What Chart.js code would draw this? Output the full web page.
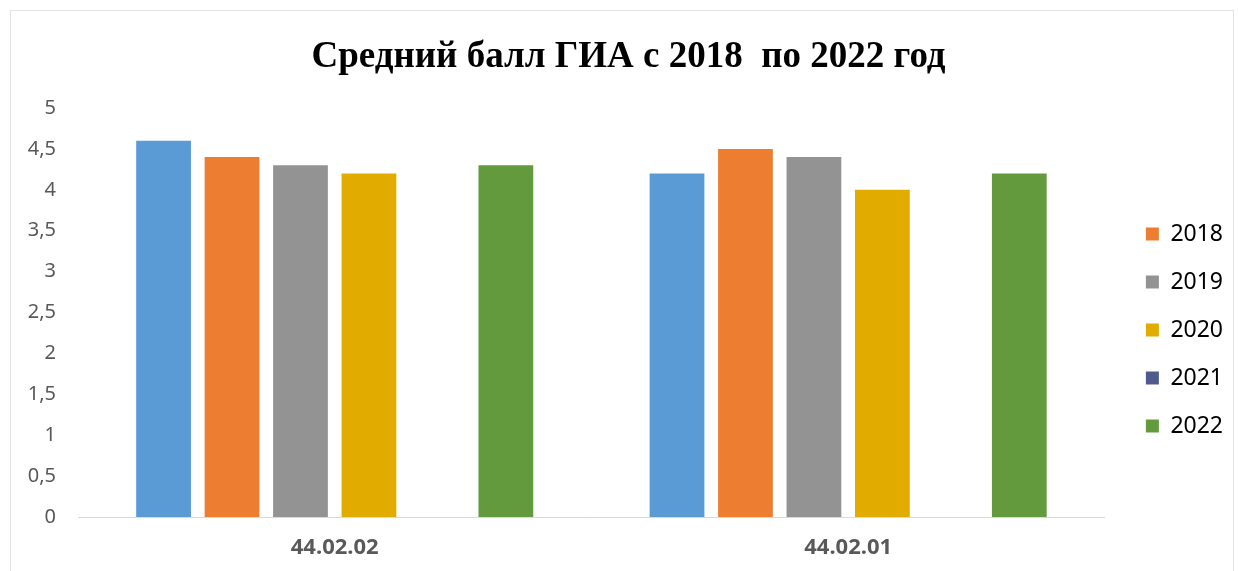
<!DOCTYPE html>
<html>
<head>
<meta charset="utf-8">
<script src="https://cdn.jsdelivr.net/npm/chart.js@4/dist/chart.umd.min.js"></script>
<style>
html,body{margin:0;padding:0;background:#fff;overflow:hidden;}
#wrap{position:relative;width:1238px;height:571px;}
#frame{position:absolute;left:10px;top:10px;width:1222px;height:580px;border:1px solid #e3e3e3;pointer-events:none;}
</style>
</head>
<body>
<div id="wrap">
<canvas id="c" width="1238" height="571"></canvas>
<div id="frame"></div>
</div>
<script>
const categories = ['44.02.02', '44.02.01'];
const seriesNames = ['Ряд1', '2018', '2019', '2020', '2021', '2022'];
const values0 = [4.6, 4.2];
const values2018 = [4.4, 4.5];
const values2019 = [4.3, 4.4];
const values2020 = [4.2, 4.0];
const values2021 = [null, null];
const values2022 = [4.3, 4.2];
const yTicks = [0, 0.5, 1, 1.5, 2, 2.5, 3, 3.5, 4, 4.5, 5];
const colors = ['#5B9BD5', '#ED7D31', '#939393', '#E1AB00', '#4F5B8D', '#649A3E'];

const allValues = [values0, values2018, values2019, values2020, values2021, values2022];
const datasets = allValues.map((v, i) => ({
  label: seriesNames[i],
  data: v,
  backgroundColor: colors[i],
  borderWidth: 0,
  categoryPercentage: 0.8,
  barPercentage: 0.8
}));

new Chart(document.getElementById('c'), {
  type: 'bar',
  data: { labels: categories, datasets },
  options: {
    responsive: false,
    animation: false,
    layout: { padding: { left: 24, right: 5, top: 0, bottom: 0 } },
    plugins: {
      title: {
        display: true,
        text: 'Средний балл ГИА с 2018  по 2022 год',
        font: { family: 'Liberation Serif', size: 37, weight: 'bold' },
        color: '#000',
        padding: { top: 35, bottom: 28.6 }
      },
      legend: {
        position: 'right',
        title: { display: true, text: ' ', font: { size: 10 }, padding: { top: 0, bottom: 77 } },
        labels: {
          filter: (item) => item.datasetIndex !== 0,
          boxWidth: 13,
          boxHeight: 13,
          padding: 25,
          color: '#000',
          font: { family: 'Noto Sans', size: 23 }
        }
      },
      tooltip: { enabled: false }
    },
    scales: {
      x: {
        grid: { display: false, drawTicks: false },
        border: { display: true, color: '#d9d9d9', width: 1 },
        afterFit: (s) => { s.height = 54; },
        ticks: {
          padding: 18,
          color: '#595959',
          font: { family: 'Noto Sans', size: 22, weight: 'bold' }
        }
      },
      y: {
        min: 0,
        max: 5,
        afterBuildTicks: (axis) => { axis.ticks = yTicks.map(v => ({ value: v })); },
        afterFit: (s) => { s.width = 54; },
        grid: { display: false, drawTicks: false },
        border: { display: false },
        ticks: {
          padding: 22,
          color: '#595959',
          font: { family: 'Noto Sans', size: 20 },
          callback: (v) => String(v).replace('.', ',')
        }
      },
      yRight: {
        position: 'right',
        display: true,
        afterFit: (s) => { s.width = 16; },
        grid: { display: false, drawTicks: false },
        border: { display: false },
        ticks: { display: false }
      }
    }
  }
});
</script>
</body>
</html>
